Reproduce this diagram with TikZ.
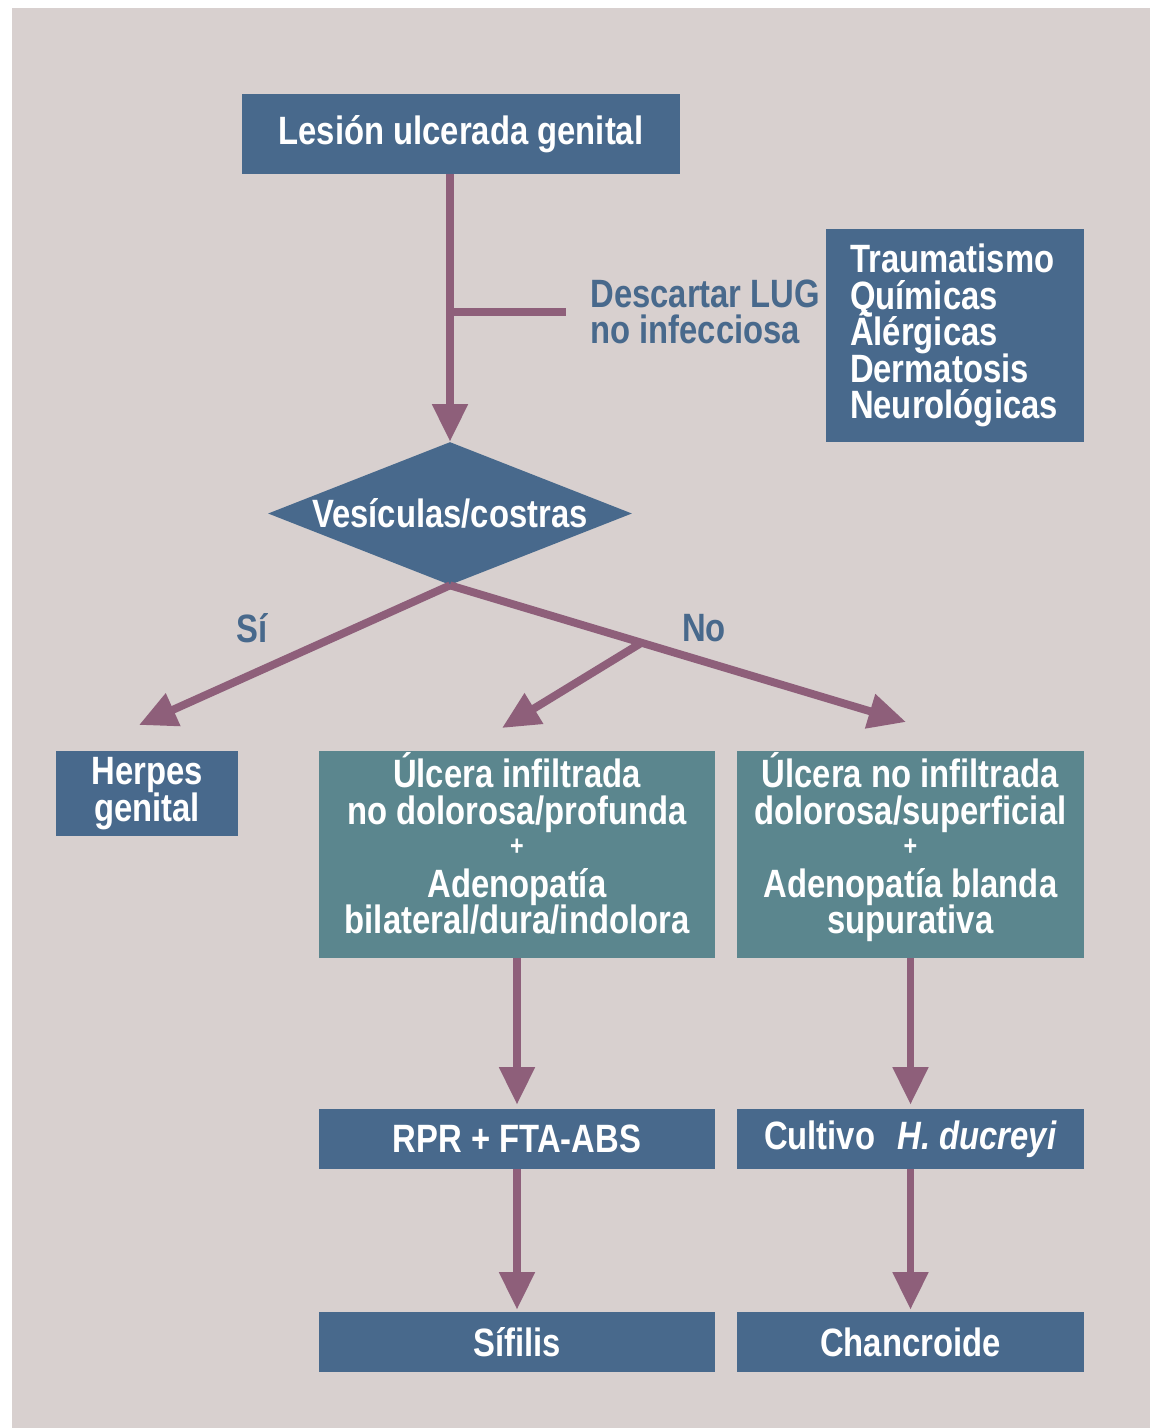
\documentclass[tikz,border=0pt]{standalone}
\usepackage{fontspec}
\setmainfont{Liberation Sans}[FakeStretch=0.83]
\usepackage{xcolor}
\usetikzlibrary{shapes.geometric,arrows.meta,positioning}

\definecolor{panelbg}{HTML}{D8D0CF}
\definecolor{boxblue}{HTML}{48698C}
\definecolor{boxteal}{HTML}{5B868E}
\definecolor{arrowcol}{HTML}{8E5F7A}

\newcommand{\boxfont}{\bfseries\fontsize{22.5}{20.8}\selectfont\lineskiplimit=-50pt}
\newcommand{\plussign}{\raisebox{3pt}{\fontsize{16}{20.8}\selectfont +}}

\begin{document}
\begin{tikzpicture}[
        x=0.02cm, y=-0.02cm,
        bluebox/.style={rectangle, fill=boxblue, text=white, font=\boxfont, align=center, inner sep=0pt},
        tealbox/.style={bluebox, fill=boxteal, text depth=0.45cm},
        decision/.style={diamond, fill=boxblue, text=white, font=\boxfont, inner sep=0pt, minimum width=7.28cm, minimum height=2.86cm},
        note/.style={text=boxblue, font=\boxfont, align=left, inner sep=0pt},
        link/.style={draw=arrowcol, line width=4.5pt},
        arrow/.style={link, -{Triangle[length=0.75cm,width=0.68cm]}}
    ]
        \useasboundingbox (0,0) rectangle (1150,1428);
        \fill[white] (0,0) rectangle (1150,1428);
        \fill[panelbg] (12,8) rectangle (1150,1428);

        % top of the chart
        \node[bluebox, minimum width=8.76cm, minimum height=1.6cm] (lesion) at (461,134) {Lesión ulcerada genital};
        \node[bluebox, minimum width=5.16cm, minimum height=4.26cm, text width=4.2cm, align=left] (causes) at (955,335.5)
            {Traumatismo\\Químicas\\Álérgicas\\Dermatosis\\Neurológicas};
        \node[note, anchor=west, inner xsep=0.48cm] (descartar) at (566,312) {Descartar LUG\\no infecciosa};
        \node[decision] (vesic) at (450,513.5) {\makebox[0pt]{Vesículas/costras}};

        \draw[link] (vesic.north |- descartar.west) -- (descartar.west);
        \draw[arrow] (vesic.north |- lesion.south) -- (vesic.north);

        % branches
        \node[bluebox, minimum width=3.64cm, minimum height=1.7cm] (herpes) at (147,793.5) {Herpes\\genital};
        \node[tealbox, minimum width=7.92cm, minimum height=4.14cm] (ulcA) at (517,854.5)
            {Úlcera infiltrada\\no dolorosa/profunda\\\plussign\\Adenopatía\\bilateral/dura/indolora};
        \node[tealbox, minimum width=6.94cm, minimum height=4.14cm] (ulcB) at (910.5,854.5)
            {Úlcera no infiltrada\\dolorosa/superficial\\\plussign\\Adenopatía blanda\\supurativa};

        \coordinate (tipsi) at (139,725);
        \coordinate (tipmid) at (502,728);
        \coordinate (tipno) at (906,722);

        \draw[arrow] (vesic.south) -- (tipsi);
        \draw[arrow] (vesic.south) -- coordinate[pos=0.42] (nosplit) (tipno);
        \draw[arrow] (nosplit) -- (tipmid);

        \node[note] (si) at (252,628) {Sí};
        \node[note] (no) at (704,628) {No};

        % tests and diagnoses
        \node[bluebox, minimum width=7.92cm, minimum height=1.2cm] (rpr) at (517,1139) {RPR + FTA-ABS};
        \node[bluebox, minimum width=6.94cm, minimum height=1.2cm] (cultivo) at (910.5,1139) {Cultivo\hspace{0.45cm}\textit{H. ducreyi}};
        \node[bluebox, minimum width=7.92cm, minimum height=1.2cm] (sifilis) at (517,1342) {Sífilis};
        \node[bluebox, minimum width=6.94cm, minimum height=1.2cm] (chancroide) at (910.5,1342) {Chancroide};

        \draw[arrow, shorten >=0.08cm] (ulcA.south) -- (rpr.north);
        \draw[arrow, shorten >=0.08cm] (ulcB.south) -- (cultivo.north);
        \draw[arrow, shorten >=0.04cm] (rpr.south) -- (sifilis.north);
        \draw[arrow, shorten >=0.04cm] (cultivo.south) -- (chancroide.north);
    \end{tikzpicture}
\end{document}
